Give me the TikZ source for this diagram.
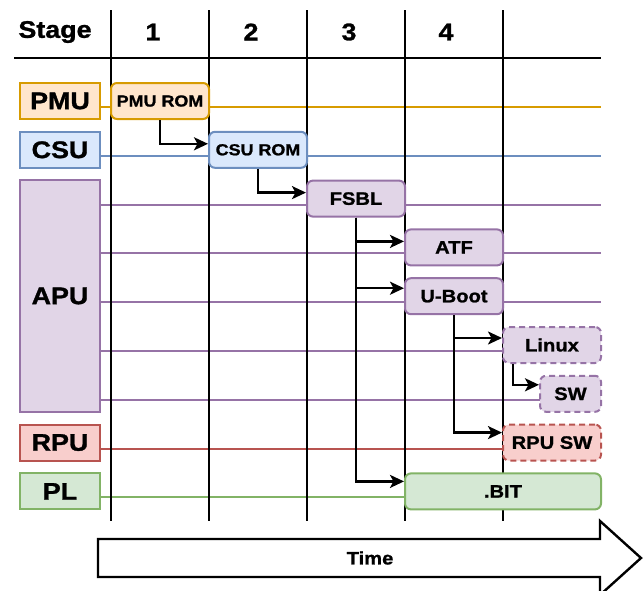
\documentclass[tikz,border=0pt]{standalone}
\usepackage{fontspec}
\setmainfont{Liberation Sans}[FakeStretch=1.12, BoldFeatures={FakeBold=1.2}]
\usetikzlibrary{arrows.meta}

\definecolor{pmuFill}{HTML}{FFE6CC}
\definecolor{pmuLine}{HTML}{D79B00}
\definecolor{csuFill}{HTML}{DAE8FC}
\definecolor{csuLine}{HTML}{6C8EBF}
\definecolor{apuFill}{HTML}{E1D5E7}
\definecolor{apuLine}{HTML}{9673A6}
\definecolor{rpuFill}{HTML}{F8CECC}
\definecolor{rpuLine}{HTML}{B85450}
\definecolor{plFill}{HTML}{D5E8D4}
\definecolor{plLine}{HTML}{82B366}

\begin{document}
\begin{tikzpicture}[x=1pt, y=-1pt]

      \tikzstyle{head_style} = [inner sep=0pt, font=\fontsize{24}{24}\selectfont\bfseries]
      \tikzstyle{unit_style} = [rectangle, draw, line width=2pt, minimum width=80pt, minimum height=36pt, inner sep=0pt, font=\fontsize{24}{24}\selectfont\bfseries]
      \tikzstyle{task_style} = [rectangle, draw, rounded corners=6pt, line width=2pt, minimum width=98pt, minimum height=36pt, inner sep=0pt, font=\fontsize{18}{18}\selectfont\bfseries]
      \tikzstyle{later} = [dash pattern=on 6pt off 4pt]
      \tikzstyle{lane} = [line width=2pt]
      \tikzstyle{grid} = [line width=2.4pt, black]
      \tikzstyle{flow} = [line width=2.4pt, black, -{Stealth[length=14pt, width=13pt, inset=3.5pt]}]

      \useasboundingbox (0,0) rectangle (643,590);

      % header
      \draw
        (55, 32) node[head_style] (stage){Stage}
        (153, 32) node[head_style] (s1){1}
        (251, 32) node[head_style] (s2){2}
        (349, 32) node[head_style] (s3){3}
        (446, 32) node[head_style] (s4){4};
      \draw[grid] (14, 58) -- (601, 58);

      % swim lanes
      \draw[lane, pmuLine] (100, 107) -- (601, 107);
      \draw[lane, csuLine] (100, 155.8) -- (601, 155.8);
      \draw[lane, apuLine] (100, 204.6) -- (601, 204.6);
      \draw[lane, apuLine] (100, 253.4) -- (601, 253.4);
      \draw[lane, apuLine] (100, 302.2) -- (601, 302.2);
      \draw[lane, apuLine] (100, 351) -- (601, 351);
      \draw[lane, apuLine] (100, 399.8) -- (601, 399.8);
      \draw[lane, rpuLine] (100, 448.6) -- (601, 448.6);
      \draw[lane, plLine] (100, 497.4) -- (601, 497.4);

      % stage borders
      \foreach \x in {111, 209, 307, 405, 503}
        \draw[grid] (\x, 10) -- (\x, 521);

      \draw
        (60, 101) node[unit_style, draw=pmuLine, fill=pmuFill] (pmu){PMU}
        (60, 149.8) node[unit_style, draw=csuLine, fill=csuFill] (csu){CSU}
        (60, 296) node[unit_style, draw=apuLine, fill=apuFill, minimum height=232pt] (apu){APU}
        (60, 442.6) node[unit_style, draw=rpuLine, fill=rpuFill] (rpu){RPU}
        (60, 491.4) node[unit_style, draw=plLine, fill=plFill] (pl){PL}
        (160, 101) node[task_style, draw=pmuLine, fill=pmuFill, font=\fontsize{16}{16}\selectfont\bfseries] (pmurom){PMU ROM}
        (258, 149.8) node[task_style, draw=csuLine, fill=csuFill, font=\fontsize{16}{16}\selectfont\bfseries] (csurom){CSU ROM}
        (356, 198.6) node[task_style, draw=apuLine, fill=apuFill] (fsbl){FSBL}
        (454, 247.4) node[task_style, draw=apuLine, fill=apuFill] (atf){ATF}
        (454, 296.2) node[task_style, draw=apuLine, fill=apuFill] (uboot){U-Boot}
        (552, 345) node[task_style, draw=apuLine, fill=apuFill, later] (linux){Linux}
        (570.5, 393.8) node[task_style, draw=apuLine, fill=apuFill, later, minimum width=61pt] (sw){SW}
        (552, 442.6) node[task_style, draw=rpuLine, fill=rpuFill, later] (rpusw){RPU SW}
        (503, 491.4) node[task_style, draw=plLine, fill=plFill, minimum width=196pt] (bit){.BIT};

      \begin{scope}[flow]
        \draw (pmurom.south) |- ([yshift=6pt]csurom.west);
        \draw (csurom.south) |- ([yshift=6pt]fsbl.west);
        \draw (fsbl.south) |- ([yshift=6pt]atf.west);
        \draw (fsbl.south) |- ([yshift=8pt]uboot.west);
        \draw (fsbl.south) |- ([yshift=10pt]bit.west);
        \draw (uboot.south) |- ([yshift=7pt]linux.west);
        \draw (uboot.south) |- ([yshift=10pt]rpusw.west);
        \draw ([xshift=11pt]linux.south west) |- ([yshift=9pt]sw.west);
      \end{scope}

      % time arrow
      \draw[line width=2.4pt] (98, 539) -- (600, 539) -- (600, 521) -- (641, 558) -- (600, 595) -- (600, 577) -- (98, 577) -- cycle;
      \node[font=\fontsize{18}{18}\selectfont\bfseries] (time) at (370, 558) {Time};
    \end{tikzpicture}
\end{document}
